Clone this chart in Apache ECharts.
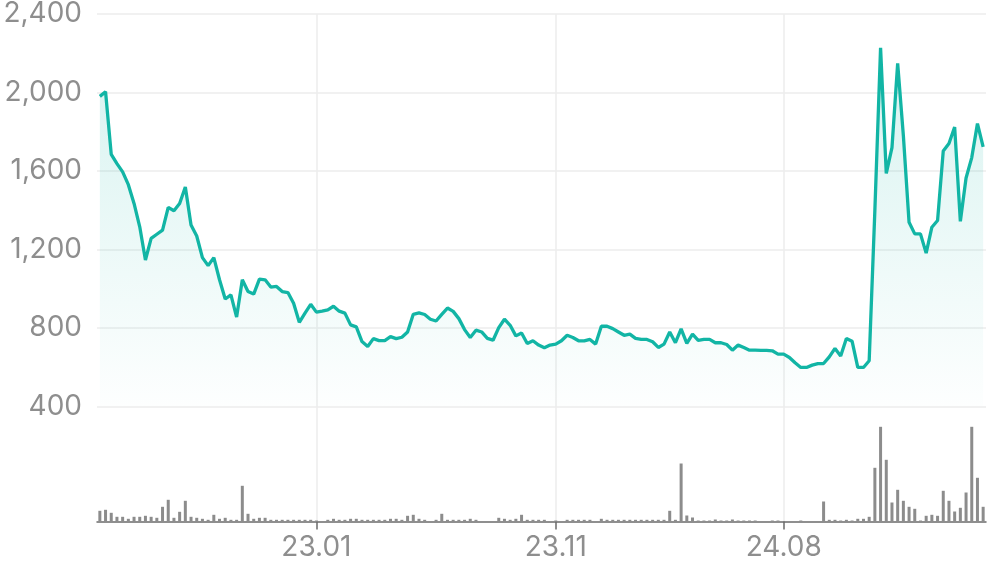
<!DOCTYPE html>
<html>
<head>
<meta charset="utf-8">
<script src="https://cdn.jsdelivr.net/npm/echarts@6/dist/echarts.min.js"></script>
<style>
html,body{margin:0;padding:0;background:#fff;}
#chart{width:996px;height:567px;}
</style>
</head>
<body>
<div id="chart"></div>
<script>
// Weekly points (156 weeks); tick labels at given category indices
const tickIndex = [38, 80, 120];
const tickLabels = ['23.01', '23.11', '24.08'];

const price = [
1980,2004,1684,1637,1595,1530,1434,1315,1146,1256,
1277,1298,1414,1397,1434,1518,1324,1268,1158,1117,
1158,1045,947,968,855,1045,985,972,1048,1045,
1008,1011,985,980,925,828,875,920,880,885,
892,910,885,875,815,805,730,705,745,735,
735,755,745,752,779,869,876,868,844,835,
869,901,884,847,791,751,788,779,746,737,
801,844,813,759,774,720,734,712,698,712,
717,734,762,751,734,734,741,717,808,808,
796,779,762,768,746,741,741,729,700,717,
779,724,795,721,768,736,741,741,724,724,
715,686,712,700,686,686,685,685,683,666,
666,649,622,598,598,610,618,618,652,695,
656,746,732,598,598,632,1400,2228,1587,1719,
2148,1780,1338,1279,1279,1181,1313,1347,1702,1740,
1824,1343,1564,1668,1841,1723
];

const volume = [
10.7,11.7,8.7,4.7,4.7,2.7,4.7,4.7,5.7,4.7,
3.7,14.7,21.7,3.7,9.7,20.7,4.7,3.7,2.7,1.7,
6.7,2.7,3.7,1.7,1.7,35.7,7.7,2.7,3.7,3.7,
1.7,1.7,1.7,1.7,1.7,1.7,1.7,1.7,1,0,
1.7,2.7,1.7,1.7,2.7,2.7,1.7,1.7,1.7,1.7,
1.7,2.7,2.7,1.7,5.7,6.7,2.7,1.7,0,1.7,
7.7,1.7,1.7,1.7,1.7,2.7,1.7,0,0,0,
3.7,2.7,1.7,2.7,6.7,1.7,1.7,1.7,1.7,0,
1,0,1.7,1.7,1.7,1.7,1.7,0,2.7,1.7,
1.7,1.7,1.7,1.7,1.7,1.7,1.7,1.7,1.7,1.7,
10.7,1.7,58,6,4,1,1,1,2,1,
1,2,1,1,1,1,0,0,1,1,
0,0,0,1,0,0,0,20,1.7,1.7,
1,1.7,1,2.7,2.7,4.7,53.7,94.7,61.7,19,
31.7,20.7,14.7,12.7,1,5.7,6.7,5.7,30.7,20.7,
10,13.7,29,94.7,43.7,14.7
];

const categories = price.map((_, i) => String(i));
const labelOf = {};
tickIndex.forEach((idx, k) => { labelOf[idx] = tickLabels[k]; });
const showAt = (index) => labelOf[index] !== undefined;

const FONT = 'Inter, "Noto Sans", sans-serif';
const teal = '#12b5a5';
const gridColor = '#ececec';

const chart = echarts.init(document.getElementById('chart'), null, {renderer: 'canvas'});
chart.setOption({
  animation: false,
  backgroundColor: '#ffffff',
  grid: [
    {left: 97, right: 10, top: 12.7, bottom: 160.7},
    {left: 97, right: 10, top: 406, height: 115.5}
  ],
  xAxis: [
    {
      type: 'category', gridIndex: 0, data: categories, boundaryGap: true,
      axisLine: {show: false}, axisTick: {show: false}, axisLabel: {show: false},
      splitLine: {show: true, interval: showAt, alignWithLabel: true,
        lineStyle: {color: gridColor, width: 1.5}}
    },
    {
      type: 'category', gridIndex: 1, data: categories, boundaryGap: true,
      axisLine: {show: true, lineStyle: {color: '#6b6b6b', width: 1.5}},
      axisTick: {show: true, alignWithLabel: true, interval: showAt, length: 8,
        lineStyle: {color: '#6b6b6b', width: 1.5}},
      axisLabel: {show: true, interval: showAt, margin: 12,
        formatter: (v, i) => labelOf[i] || '',
        fontFamily: FONT, fontSize: 28, color: '#8e8e8e'},
      splitLine: {show: true, interval: showAt, alignWithLabel: true,
        lineStyle: {color: gridColor, width: 1.5}}
    }
  ],
  yAxis: [
    {
      type: 'value', gridIndex: 0, min: 400, max: 2400, interval: 400,
      axisLine: {show: false}, axisTick: {show: false},
      axisLabel: {margin: 15, fontFamily: FONT, fontSize: 28, color: '#8e8e8e',
        padding: [4, 0, 0, 0],
        formatter: (v) => v.toLocaleString('en-US')},
      splitLine: {show: true, lineStyle: {color: gridColor, width: 1.5}}
    },
    {
      type: 'value', gridIndex: 1, min: 0, max: 115.5, show: false,
      splitLine: {show: false}
    }
  ],
  series: [
    {
      type: 'line', xAxisIndex: 0, yAxisIndex: 0, data: price,
      symbol: 'none', smooth: false,
      lineStyle: {color: teal, width: 3.3},
      areaStyle: {
        color: new echarts.graphic.LinearGradient(0, 0, 0, 1, [
          {offset: 0, color: 'rgba(18,181,165,0.24)'},
          {offset: 1, color: 'rgba(18,181,165,0.01)'}
        ])
      }
    },
    {
      type: 'bar', xAxisIndex: 1, yAxisIndex: 1, data: volume,
      barWidth: 3, itemStyle: {color: '#8c8c8c'}
    }
  ]
});
</script>
</body>
</html>
